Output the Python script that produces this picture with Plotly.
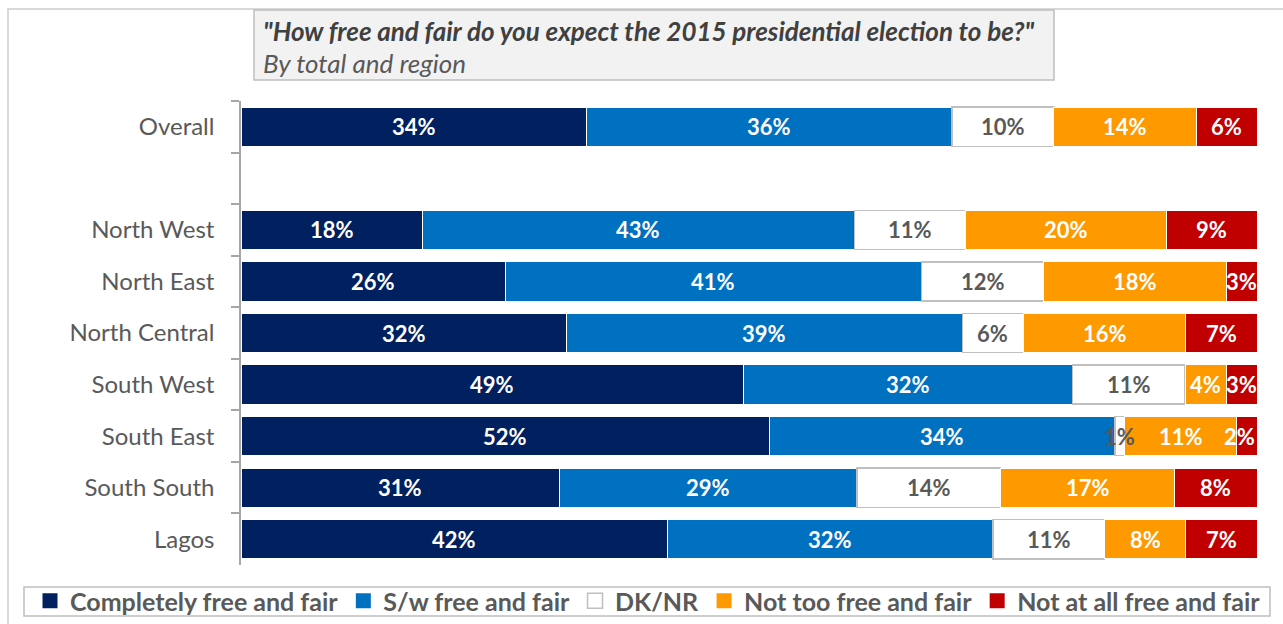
import plotly.graph_objects as go

# Survey rows (top to bottom); the blank row separates the total from the regions
regions = ["Overall", " ", "North West", "North East", "North Central",
           "South West", "South East", "South South", "Lagos"]

completely = [34, None, 18, 26, 32, 49, 52, 31, 42]
somewhat = [36, None, 43, 41, 39, 32, 34, 29, 32]
dk_nr = [10, None, 11, 12, 6, 11, 1, 14, 11]
not_too = [14, None, 20, 18, 16, 4, 11, 17, 8]
not_at_all = [6, None, 9, 3, 7, 3, 2, 8, 7]

series = [
    ("Completely free and fair", completely, "#002060", "white", "white"),
    ("S/w free and fair", somewhat, "#0070C0", "white", "white"),
    ("DK/NR", dk_nr, "#FFFFFF", "#BFBFBF", "#595959"),
    ("Not too free and fair", not_too, "#FF9900", "white", "white"),
    ("Not at all free and fair", not_at_all, "#C00000", "white", "white"),
]

FONT = "Lato"
LABEL_SIZE = 22

# Layout geometry (pixels) converted to paper coordinates
W, H = 1283, 624
L, R, T, B = 241, 26, 101, 59
pw, ph = W - L - R, H - T - B


def px(x):
    return (x - L) / pw


def py(y):
    return (H - B - y) / ph


fig = go.Figure()
for name, vals, color, edge, _ in series:
    is_dk = name == "DK/NR"
    fig.add_trace(go.Bar(
        name=name,
        y=regions,
        x=vals,
        orientation="h",
        marker=dict(color=color, line=dict(color=edge, width=1.5 if is_dk else 1)),
        hoverinfo="skip",
        showlegend=False,
        legendgroup=name,
    ))
    # square legend key of a fixed size
    fig.add_trace(go.Scatter(
        name=name,
        x=[None], y=[None],
        mode="markers",
        marker=dict(symbol="square", size=15, color=color,
                    line=dict(color="#BFBFBF" if is_dk else color, width=1.5 if is_dk else 0)),
        hoverinfo="skip",
        legendgroup=name,
    ))

# Value labels: centred on each (row-normalised) segment, drawn above all bars
annotations = []
for r, region in enumerate(regions):
    row = [s[1][r] for s in series]
    if row[0] is None:
        continue
    total = sum(row)
    cum = 0
    for k, (name, vals, _, _, txtcol) in enumerate(series):
        v = vals[r]
        mid = (cum + v / 2) / total * 100
        cum += v
        text = f"{v}%"
        half_w = len(text) * 0.3 * LABEL_SIZE * 100 / pw
        x, anchor = mid, "center"
        if mid + half_w > 100:
            x, anchor = 100, "right"
        annotations.append(dict(
            xref="x", yref="y", x=x, y=region, xanchor=anchor, yanchor="middle",
            text=f"<b>{text}</b>", showarrow=False,
            font=dict(family=FONT, size=LABEL_SIZE, color=txtcol),
        ))

annotations += [
    dict(xref="paper", yref="paper", x=px(261), y=py(31), xanchor="left", yanchor="middle",
         text="<b><i>\"How free and fair do you expect the 2015 presidential election to be?\"</i></b>",
         showarrow=False, font=dict(family=FONT, size=26, color="#404040")),
    dict(xref="paper", yref="paper", x=px(261), y=py(63), xanchor="left", yanchor="middle",
         text="<i>By total and region</i>",
         showarrow=False, font=dict(family=FONT, size=26, color="#595959")),
]

shapes = [
    # outer frame
    dict(type="rect", xref="paper", yref="paper",
         x0=px(8), x1=px(1295), y0=py(640), y1=py(9),
         line=dict(color="#D9D9D9", width=2), fillcolor="rgba(0,0,0,0)", layer="below"),
    # title box
    dict(type="rect", xref="paper", yref="paper",
         x0=px(254), x1=px(1054), y0=py(80), y1=py(10),
         line=dict(color="#BFBFBF", width=1.5), fillcolor="#F2F2F2"),
    # legend box
    dict(type="rect", xref="paper", yref="paper",
         x0=px(24), x1=px(1270), y0=py(616), y1=py(587),
         line=dict(color="#BFBFBF", width=1.5), fillcolor="rgba(0,0,0,0)"),
]

fig.update_layout(
    width=W, height=H,
    margin=dict(l=L, r=R, t=T, b=B, autoexpand=False),
    barmode="stack",
    barnorm="percent",
    bargap=0.24,
    plot_bgcolor="white",
    paper_bgcolor="white",
    shapes=shapes,
    annotations=annotations,
    showlegend=True,
    legend=dict(
        orientation="h",
        x=px(30), xanchor="left",
        y=py(601), yanchor="middle",
        font=dict(family=FONT, size=25, color="#595959", weight="bold"),
        traceorder="normal",
        bgcolor="rgba(0,0,0,0)",
        itemsizing="trace",
    ),
    xaxis=dict(range=[0, 100], visible=False, fixedrange=True),
    yaxis=dict(
        categoryorder="array",
        categoryarray=regions,
        autorange="reversed",
        showline=True, linecolor="#A6A6A6", linewidth=1.5,
        ticks="outside", tickson="boundaries", ticklen=8, tickcolor="#A6A6A6", tickwidth=1.5,
        ticklabelstandoff=20,
        tickfont=dict(family=FONT, size=24, color="#595959"),
        showgrid=False, zeroline=False, fixedrange=True,
    ),
    font=dict(family=FONT),
)

fig.write_html("out.html")
